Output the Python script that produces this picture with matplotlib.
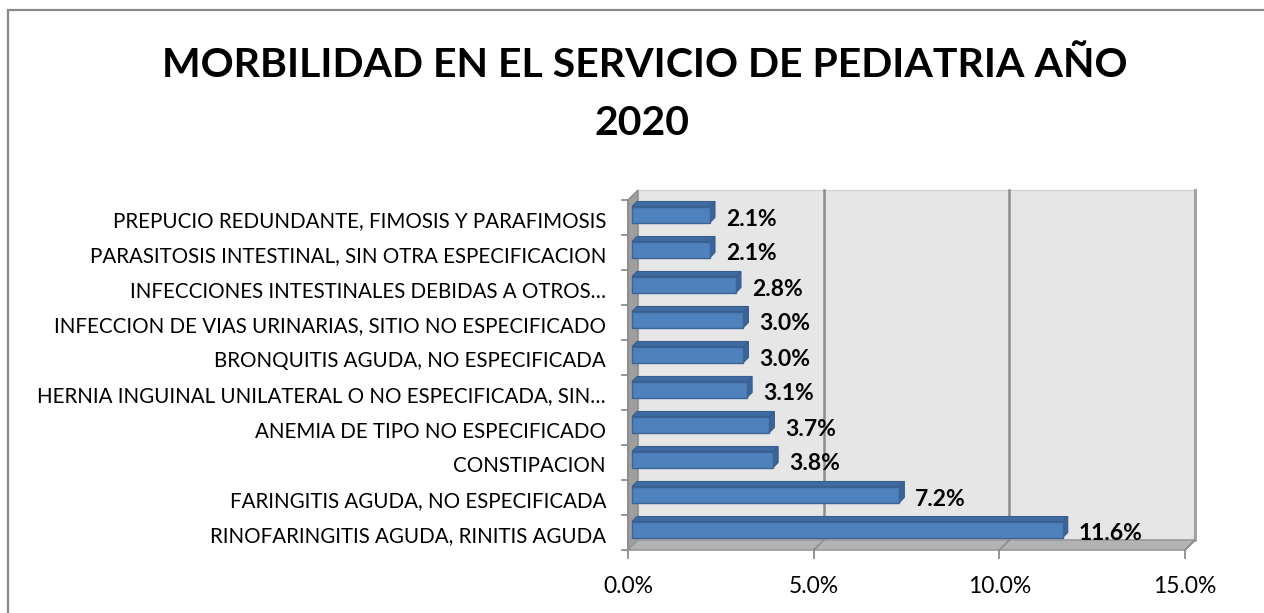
import matplotlib
matplotlib.use("Agg")
import matplotlib.pyplot as plt
from matplotlib.patches import Polygon, Rectangle
from matplotlib.transforms import ScaledTranslation

categories = [
    "RINOFARINGITIS AGUDA, RINITIS AGUDA",
    "FARINGITIS AGUDA, NO ESPECIFICADA",
    "CONSTIPACION",
    "ANEMIA DE TIPO NO ESPECIFICADO",
    "HERNIA INGUINAL UNILATERAL O NO ESPECIFICADA, SIN…",
    "BRONQUITIS AGUDA, NO ESPECIFICADA",
    "INFECCION DE VIAS URINARIAS, SITIO NO ESPECIFICADO",
    "INFECCIONES INTESTINALES DEBIDAS A OTROS…",
    "PARASITOSIS INTESTINAL, SIN OTRA ESPECIFICACION",
    "PREPUCIO REDUNDANTE, FIMOSIS Y PARAFIMOSIS",
]
values = [11.6, 7.2, 3.8, 3.7, 3.1, 3.0, 3.0, 2.8, 2.1, 2.1]
xticks = [0, 5, 10, 15]
xtick_labels = ["0.0%", "5.0%", "10.0%", "15.0%"]
title_lines = ["MORBILIDAD EN EL SERVICIO DE PEDIATRIA AÑO", "2020"]

plt.rcParams['font.family'] = ['Lato', 'DejaVu Sans']

W, H = 1264, 613
fig = plt.figure(figsize=(W / 100, H / 100), dpi=100)

# front plane in pixels
L, R, T, B = 628, 1185, 200, 550
ax = fig.add_axes([L / W, 1 - B / H, (R - L) / W, (B - T) / H])
xmax = 15.0
n = len(categories)
ax.set_xlim(0, xmax)
ax.set_ylim(-0.5, n - 0.5)
ax.axis("off")

pxx = xmax / (R - L)        # data per pixel x
pxy = n / (B - T)           # data per pixel y
DX, DY = 10 * pxx, 10 * pxy  # depth offset
y0, y1 = -0.5, n - 0.5
grid_c = "#8c8c8c"

# back wall
ax.add_patch(Rectangle((DX, y0 + DY), xmax, n, facecolor="#e6e6e6",
                       edgecolor="#d0d0d0", lw=0.8, clip_on=False, zorder=0))
ax.plot([xmax + DX, xmax + DX], [y0 + DY, y1 + DY], color="#a0a0a0", lw=1.5,
        zorder=0.6, clip_on=False)
# left wall
ax.add_patch(Polygon([(0, y0), (0, y1), (DX, y1 + DY), (DX, y0 + DY)],
                     closed=True, facecolor="#9e9e9e", edgecolor="#8a8a8a",
                     lw=1, clip_on=False, zorder=1))
# floor
ax.add_patch(Polygon([(0, y0), (xmax, y0), (xmax + DX, y0 + DY), (DX, y0 + DY)],
                     closed=True, facecolor="#b3b3b3", edgecolor="#9a9a9a",
                     lw=1.2, clip_on=False, zorder=1))
# gridlines
for xt in xticks[1:]:
    ax.plot([xt + DX, xt + DX], [y0 + DY, y1 + DY], color=grid_c, lw=1.8,
            zorder=0.5, clip_on=False)
    ax.plot([xt, xt + DX], [y0, y0 + DY], color=grid_c, lw=1.2,
            zorder=1.2, clip_on=False)

# tick marks
for xt in xticks:
    ax.plot([xt, xt], [y0, y0 - 8 * pxy], color=grid_c, lw=1.3, clip_on=False)
for i in range(n + 1):
    yy = i - 0.5
    ax.plot([0, -6 * pxx], [yy, yy], color=grid_c, lw=1.3, clip_on=False)
ax.plot([0, 0], [y0, y1], color=grid_c, lw=1.3, clip_on=False, zorder=1.5)

# bars (sitting slightly inside the depth)
shift = ScaledTranslation(4 / 100, 3 / 100, fig.dpi_scale_trans)
btrans = ax.transData + shift
h = 16 * pxy
bx = 5 * pxx
by = 5 * pxy
ys = list(range(n))
ax.barh(ys, values, height=h, left=0, color="#4f81bd", edgecolor="#3b6397",
        lw=1, zorder=3, transform=btrans)
for yv, v in zip(ys, values):
    top = yv + h / 2
    bot = yv - h / 2
    ax.add_patch(Polygon([(0, top), (v, top), (v + bx, top + by), (bx, top + by)],
                         closed=True, facecolor="#3f6ba3", edgecolor="#385d8a",
                         lw=0.8, zorder=2.9, clip_on=False, transform=btrans))
    ax.add_patch(Polygon([(v, bot), (v + bx, bot + by), (v + bx, top + by), (v, top)],
                         closed=True, facecolor="#3a659a", edgecolor="#385d8a",
                         lw=0.8, zorder=2.9, clip_on=False, transform=btrans))
    ax.annotate(f"{v:.1f}%", xy=(v, yv), xytext=(20, -8),
                textcoords="offset pixels", ha="left", va="baseline",
                fontsize=16.5, fontweight="bold", color="#000000", zorder=5)

# category labels
for yv, c in zip(ys, categories):
    ax.annotate(c, xy=(0, yv), xytext=(-22, -10), textcoords="offset pixels",
                ha="right", va="baseline", fontsize=14.8, color="#000000",
                annotation_clip=False)

# x tick labels
for xt, lab in zip(xticks, xtick_labels):
    ax.annotate(lab, xy=(xt, y0), xytext=(0, -43), textcoords="offset pixels",
                ha="center", va="baseline", fontsize=16.5, color="#000000",
                annotation_clip=False)

fig.text(645 / W, 1 - 77 / H, title_lines[0], ha="center", va="baseline",
         fontsize=29.5, fontweight="bold", color="#000000")
fig.text(642 / W, 1 - 135 / H, title_lines[1], ha="center", va="baseline",
         fontsize=29.5, fontweight="bold", color="#000000")

# outer border (right/bottom edges fall outside the picture)
fig.patches.append(Rectangle((8 / W, 1 - 10 / H - 1.5), 1.2, 1.5,
                             transform=fig.transFigure, fill=False,
                             edgecolor="#8a8a8a", lw=1.6))

fig.savefig("out.png", dpi=100)
